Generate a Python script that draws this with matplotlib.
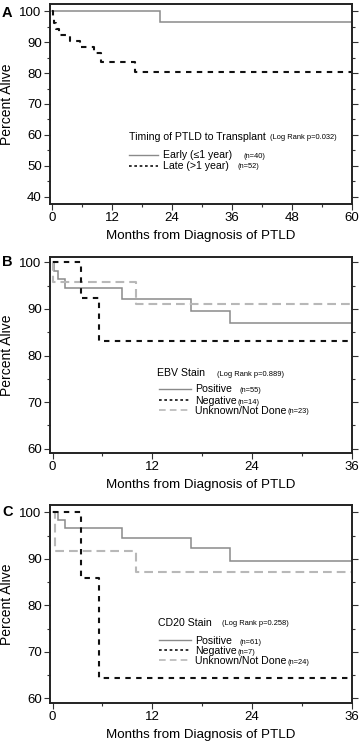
import matplotlib
matplotlib.use("Agg")
import matplotlib.pyplot as plt
from matplotlib.lines import Line2D

plt.rcParams['font.family'] = ['Liberation Sans', 'DejaVu Sans']

# ---- Data ----
A_early_t = [0, 21.6, 60]
A_early_s = [100, 96.5, 96.5]
A_late_t = [0, 0.1, 0.3, 0.8, 1.4, 3.6, 5.5, 8.3, 9.8, 16.6, 60]
A_late_s = [100, 98.1, 96.2, 94.2, 92.3, 90.4, 88.5, 86.4, 83.6, 80.3, 80.3]

B_pos_t = [0, 0.2, 0.7, 1.5, 8.4, 16.6, 21.4, 36]
B_pos_s = [100, 98.2, 96.4, 94.4, 92.2, 89.6, 86.9, 86.9]
B_neg_t = [0, 3.4, 5.6, 36]
B_neg_s = [100, 92.4, 83.1, 83.1]
B_unk_t = [0, 0.1, 10.0, 36]
B_unk_s = [100, 95.7, 91.0, 91.0]

C_pos_t = [0, 0.7, 1.5, 8.4, 16.6, 21.4, 36]
C_pos_s = [100, 98.4, 96.6, 94.6, 92.3, 89.5, 89.5]
C_neg_t = [0, 3.4, 5.6, 36]
C_neg_s = [100, 85.8, 64.3, 64.3]
C_unk_t = [0, 0.3, 10.0, 36]
C_unk_s = [100, 91.7, 87.2, 87.2]

A_xticks = [0, 12, 24, 36, 48, 60]
A_yticks = [40, 50, 60, 70, 80, 90, 100]
BC_xticks = [0, 12, 24, 36]
BC_yticks = [60, 70, 80, 90, 100]

W, H = 360, 744
fig = plt.figure(figsize=(W / 100, H / 100), dpi=100)

def fx(px):
    return px / W

def fy(py):
    return 1 - py / H

def make_ax(l, t, r, b):
    return fig.add_axes([fx(l), fy(b), fx(r) - fx(l), fy(t) - fy(b)])

SOLID = dict(color='#8a8a8a', lw=1.1, solid_joinstyle='miter')
BLACK = dict(color='#111111', lw=1.5, dashes=(2.6, 2.6))
LGRAY = dict(color='#b8b8b8', lw=1.5, dashes=(4.2, 2.4))

LEG = 7.55
SMALL = 5.4

def style(ax, xlim, ylim, xticks, yticks, xminor, yminor):
    ax.set_xlim(*xlim)
    ax.set_ylim(*ylim)
    ax.set_xticks(xticks)
    ax.set_yticks(yticks)
    ax.set_xticks(xminor, minor=True)
    ax.set_yticks(yminor, minor=True)
    for s in ax.spines.values():
        s.set_linewidth(1.4)
        s.set_color('#222222')
    ax.tick_params(which='both', direction='out', right=True, top=False,
                   color='#333333', width=0.8)
    ax.tick_params(which='major', length=4, labelsize=9.5, pad=2)
    ax.tick_params(which='minor', length=2.5)
    ax.set_ylabel('Percent Alive', fontsize=10, labelpad=4)
    ax.set_xlabel('Months from Diagnosis of PTLD', fontsize=9.6, labelpad=4)

def step(ax, t, s, kw):
    ax.step(t, s, where='post', **kw)

def legend_line(x0, x1, y, kw):
    fig.add_artist(Line2D([fx(x0), fx(x1)], [fy(y), fy(y)], transform=fig.transFigure, **kw))

def txt(x, y, s, size):
    fig.text(fx(x), fy(y), s, fontsize=size, ha='left', va='center')

# ---- Panel A ----
axA = make_ax(50, 4, 352, 204)
step(axA, A_early_t, A_early_s, SOLID)
step(axA, A_late_t, A_late_s, BLACK)
style(axA, (-0.46, 60.06), (37.7, 102.3), A_xticks, A_yticks,
      [6, 18, 30, 42, 54], [45, 55, 65, 75, 85, 95])
fig.text(fx(2), fy(13), 'A', fontsize=10.5, fontweight='bold', ha='left', va='center')
txt(129, 137, 'Timing of PTLD to Transplant', LEG)
txt(270.5, 137.5, '(Log Rank p=0.032)', SMALL)
legend_line(129, 158, 155.3, dict(color='#8a8a8a', lw=1.0))
legend_line(129, 158, 165.7, dict(color='#111111', lw=1.2, dashes=(1.6, 1.6)))
txt(163, 155, 'Early (\u22641 year)', LEG)
txt(244, 156, '(n=40)', SMALL)
txt(163, 166, 'Late (>1 year)', LEG)
txt(237, 167, '(n=52)', SMALL)

# ---- Panel B ----
axB = make_ax(50, 256.7, 352, 453)
step(axB, B_pos_t, B_pos_s, SOLID)
step(axB, B_unk_t, B_unk_s, LGRAY)
step(axB, B_neg_t, B_neg_s, BLACK)
style(axB, (-0.32, 36.04), (59.1, 101.2), BC_xticks, BC_yticks,
      [6, 18, 30], [65, 75, 85, 95])
fig.text(fx(2), fy(262), 'B', fontsize=10.5, fontweight='bold', ha='left', va='center')
txt(157, 373, 'EBV Stain', LEG)
txt(217, 374, '(Log Rank p=0.889)', SMALL)
legend_line(159, 191, 389, dict(color='#8a8a8a', lw=1.0))
legend_line(159, 191, 399.5, dict(color='#111111', lw=1.2, dashes=(1.6, 1.6)))
legend_line(159, 191, 410.3, dict(color='#b8b8b8', lw=1.2, dashes=(4, 2.5)))
txt(195, 388.5, 'Positive', LEG)
txt(239, 390.5, '(n=55)', SMALL)
txt(195, 400.5, 'Negative', LEG)
txt(237.5, 402, '(n=14)', SMALL)
txt(195, 411, 'Unknown/Not Done', LEG)
txt(288, 412, '(n=23)', SMALL)

# ---- Panel C ----
axC = make_ax(50, 505, 352, 702.7)
step(axC, C_pos_t, C_pos_s, SOLID)
step(axC, C_unk_t, C_unk_s, LGRAY)
step(axC, C_neg_t, C_neg_s, BLACK)
style(axC, (-0.32, 36.04), (59.05, 101.6), BC_xticks, BC_yticks,
      [6, 18, 30], [65, 75, 85, 95])
fig.text(fx(2), fy(512), 'C', fontsize=10.5, fontweight='bold', ha='left', va='center')
txt(158, 622.5, 'CD20 Stain', LEG)
txt(222.5, 623.5, '(Log Rank p=0.258)', SMALL)
legend_line(159, 191, 639.5, dict(color='#8a8a8a', lw=1.0))
legend_line(159, 191, 650, dict(color='#111111', lw=1.2, dashes=(1.6, 1.6)))
legend_line(159, 191, 660.3, dict(color='#b8b8b8', lw=1.2, dashes=(4, 2.5)))
txt(195, 640.5, 'Positive', LEG)
txt(239, 642, '(n=61)', SMALL)
txt(195, 650.7, 'Negative', LEG)
txt(237, 652, '(n=7)', SMALL)
txt(195, 661, 'Unknown/Not Done', LEG)
txt(288, 662, '(n=24)', SMALL)

fig.savefig('out.png', dpi=100)
